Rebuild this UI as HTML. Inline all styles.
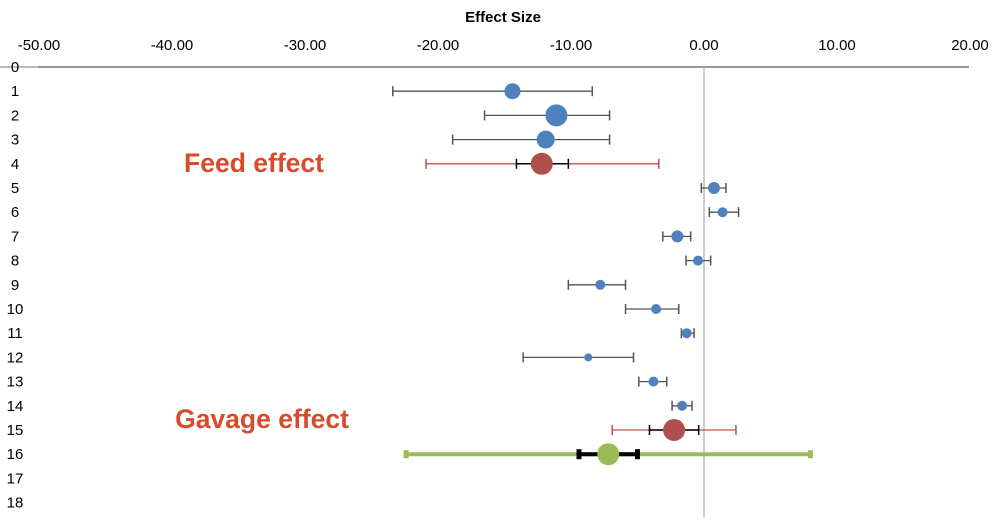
<!DOCTYPE html>
<html><head><meta charset="utf-8"><style>
body{margin:0;background:#fff;width:1000px;height:517px;overflow:hidden;font-family:"Liberation Sans",sans-serif}
</style></head><body>
<svg id="chart" width="1000" height="517" xmlns="http://www.w3.org/2000/svg"></svg>
<script>
const rows=[1,2,3,4,5,6,7,8,9,10,11,12,13,14,15,16];
const est=[-14.4,-11.1,-11.9,-12.2,0.75,1.4,-2.0,-0.45,-7.8,-3.6,-1.3,-8.7,-3.8,-1.65,-2.25,-7.2];
const lo=[-23.4,-16.5,-18.9,-20.9,-0.2,0.4,-3.1,-1.35,-10.2,-5.9,-1.7,-13.6,-4.9,-2.4,-6.9,-22.4];
const hi=[-8.4,-7.1,-7.1,-3.4,1.65,2.6,-1.0,0.5,-5.9,-1.9,-0.75,-5.3,-2.8,-0.9,2.4,8.0];
const weight=[8,11,9,11,6,5,6,5,5,5,5,4,5,5,11,11];
const kind=['s','s','s','f','s','s','s','s','s','s','s','s','s','s','f','g'];
const innerLo={4:-14.1,15:-4.1,16:-9.4};
const innerHi={4:-10.2,15:-0.4,16:-5.0};
const xticks=[-50,-40,-30,-20,-10,0,10,20];
const rowLabels=[0,1,2,3,4,5,6,7,8,9,10,11,12,13,14,15,16,17,18];
const X=v=>704+v*13.3, Y=r=>67+r*24.2;
const svg=document.getElementById('chart');
function el(t,a,txt){const e=document.createElementNS('http://www.w3.org/2000/svg',t);for(const k in a)e.setAttribute(k,a[k]);if(txt!=null)e.textContent=txt;svg.appendChild(e);return e;}
let e=el('text',{x:503,y:22,'text-anchor':'middle','font-size':15,'font-weight':'bold'},'Effect Size');

xticks.forEach(t=>{const e=el('text',{x:X(t),y:50,'text-anchor':'middle','font-size':15},t.toFixed(2));
});
e=el('line',{x1:0,x2:38,y1:67,y2:67,stroke:'#777','stroke-width':1});

e=el('line',{x1:38,x2:969,y1:67,y2:67,stroke:'#999','stroke-width':2});

e=el('line',{x1:X(0),x2:X(0),y1:67,y2:517,stroke:'#bbb','stroke-width':1.5});

rowLabels.forEach(r=>{const e=el('text',{x:15,y:Y(r)+5,'text-anchor':'middle','font-size':15},String(r));
});
rows.forEach((r,i)=>{const y=Y(r),k=kind[i];
const col=k==='s'?'#555':k==='f'?'#c0504d':'#9bbb59';const sw=k==='g'?4:1.3;const cap=k==='g'?4:5;
let e=el('line',{x1:X(lo[i]),x2:X(hi[i]),y1:y,y2:y,stroke:col,'stroke-width':sw});

[lo[i],hi[i]].forEach(v=>{const c=el('line',{x1:X(v),x2:X(v),y1:y-cap,y2:y+cap,stroke:col,'stroke-width':k==='g'?5:1.5});
});
if(innerLo[r]!=null){const w=k==='g'?4:1.5;
let e2=el('line',{x1:X(innerLo[r]),x2:X(innerHi[r]),y1:y,y2:y,stroke:'#000','stroke-width':w});

[innerLo[r],innerHi[r]].forEach(v=>{const c=el('line',{x1:X(v),x2:X(v),y1:y-5,y2:y+5,stroke:'#000','stroke-width':k==='g'?5:1.5});
});}
const fill=k==='s'?'#4f81bd':k==='f'?'#b0504c':'#9bbb59';
e=el('circle',{cx:X(est[i]),cy:y,r:weight[i],fill:fill});
});
e=el('text',{x:254,y:172,'text-anchor':'middle','font-size':26.5,'font-weight':'bold',fill:'#d94a2b'},'Feed effect');

e=el('text',{x:262,y:428,'text-anchor':'middle','font-size':26.5,'font-weight':'bold',fill:'#d94a2b'},'Gavage effect');

</script>
</body></html>
